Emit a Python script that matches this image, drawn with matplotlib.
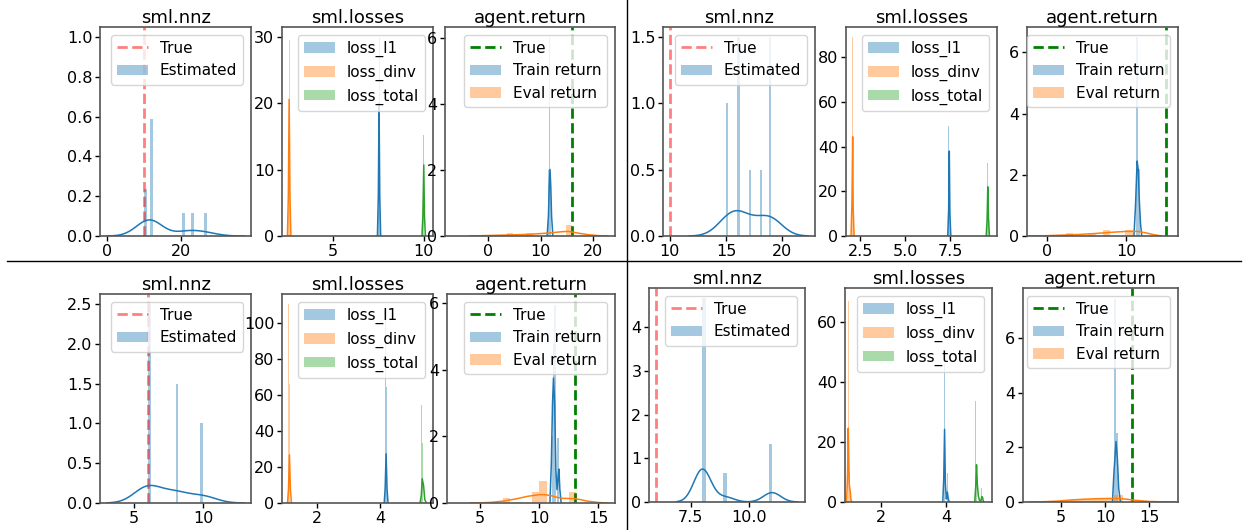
import numpy as np
import matplotlib
matplotlib.use("Agg")
import matplotlib.pyplot as plt
from matplotlib.lines import Line2D
from matplotlib.patches import Patch

plt.rcParams["font.family"] = ["DejaVu Sans"]

W, H = 1244, 530
fig = plt.figure(figsize=(W / 100, H / 100), dpi=100)

# ------------------------------------------------------------------ data
titles = ["sml.nnz", "sml.losses", "agent.return"]
loss_names = ["loss_l1", "loss_dinv", "loss_total"]
return_names = ["True", "Train return", "Eval return"]
nnz_names = ["True", "Estimated"]

# ---- top-left run
tl_nnz = [10, 10, 12, 12, 12, 12, 12, 21, 23, 27]
tl_nnz_true = 10
tl_l1_edges = [7.46, 7.51, 7.56]
tl_l1_heights = [3.9, 30.0]
tl_l1_kde_x = [7.44, 7.49, 7.53, 7.57, 7.62]
tl_l1_kde_y = [0, 6, 20.0, 6, 0]
tl_dinv_edges = [2.49, 2.54, 2.59]
tl_dinv_heights = [3.9, 29.5]
tl_dinv_kde_x = [2.47, 2.52, 2.565, 2.61, 2.66]
tl_dinv_kde_y = [0, 6, 20.6, 6, 0]
tl_total_edges = [9.92, 9.97, 10.02]
tl_total_heights = [2.0, 15.2]
tl_total_kde_x = [9.9, 9.95, 10.0, 10.04, 10.09]
tl_total_kde_y = [0, 3, 10.7, 3, 0]
tl_ret_true = 16
tl_train_edges = [11.35, 11.55, 11.75, 11.95]
tl_train_heights = [2.0, 6.04, 2.0]
tl_train_kde_x = [11.2, 11.45, 11.6, 11.75, 11.9, 12.05, 12.3]
tl_train_kde_y = [0, 0.6, 1.5, 2.02, 1.5, 0.6, 0]
tl_eval_edges = [3.5, 4.75, 6.0, 7.25, 8.5, 9.75, 11.0, 12.25, 13.5, 14.75, 16.0]
tl_eval_heights = [0.10, 0, 0, 0.09, 0, 0, 0, 0, 0, 0.33]
tl_eval_kde_x = [-3.5, 0, 3.5, 7.7, 11.5, 14.0, 15.2, 17.0, 19.0, 21.0, 22.7]
tl_eval_kde_y = [0, 0.015, 0.03, 0.05, 0.09, 0.13, 0.14, 0.09, 0.04, 0.01, 0]

# ---- top-right run
tr_nnz = [15, 15, 16, 16, 16, 17, 18, 19, 19, 19]
tr_nnz_true = 10
tr_l1_edges = [7.40, 7.45, 7.50]
tr_l1_heights = [49.2, 9.4]
tr_l1_kde_x = [7.36, 7.41, 7.445, 7.48, 7.53]
tr_l1_kde_y = [0, 12, 38, 10, 0]
tr_dinv_edges = [2.04, 2.09, 2.14]
tr_dinv_heights = [89.0, 9.4]
tr_dinv_kde_x = [2.0, 2.05, 2.09, 2.12, 2.17]
tr_dinv_kde_y = [0, 15, 44.4, 12, 0]
tr_total_edges = [9.53, 9.58, 9.63]
tr_total_heights = [32.8, 10.9]
tr_total_kde_x = [9.49, 9.54, 9.58, 9.62, 9.67]
tr_total_kde_y = [0, 7, 22, 8, 0]
tr_ret_true = 15
tr_train_edges = [11.27, 11.52, 11.77]
tr_train_heights = [6.5, 2.2]
tr_train_kde_x = [10.95, 11.15, 11.35, 11.5, 11.62, 11.78, 11.94]
tr_train_kde_y = [0, 1.0, 2.45, 2.15, 1.2, 0.4, 0]
tr_eval_edges = [2.4, 3.33, 4.26, 5.19, 6.12, 7.05, 7.98, 8.91, 9.84, 10.77]
tr_eval_heights = [0.09, 0, 0, 0.09, 0, 0.2, 0, 0, 0.2]
tr_eval_kde_x = [-2.2, 0, 2, 4, 6, 8, 10, 11.5, 12.5, 13.5, 14.5]
tr_eval_kde_y = [0, 0.01, 0.03, 0.05, 0.08, 0.12, 0.15, 0.15, 0.10, 0.04, 0]

# ---- bottom-left run
bl_nnz = [6, 6, 6, 6, 6, 8, 8, 8, 10, 10]
bl_nnz_true = 6
bl_l1_edges = [4.15, 4.18, 4.21]
bl_l1_heights = [105.0, 64.8]
bl_l1_kde_x = [4.13, 4.16, 4.19, 4.22, 4.25]
bl_l1_kde_y = [0, 8, 27.4, 8, 0]
bl_dinv_edges = [1.10, 1.13, 1.16]
bl_dinv_heights = [110.6, 66.3]
bl_dinv_kde_x = [1.08, 1.11, 1.14, 1.17, 1.20]
bl_dinv_kde_y = [0, 8, 26.8, 8, 0]
bl_total_edges = [5.29, 5.32, 5.35]
bl_total_heights = [54.6, 33.3]
bl_total_kde_x = [5.26, 5.30, 5.33, 5.37, 5.41, 5.46]
bl_total_kde_y = [0, 4, 13.5, 10, 2, 0]
bl_ret_true = 13
bl_train_edges = [11.04, 11.16, 11.28, 11.40, 11.52, 11.64]
bl_train_heights = [2.0, 4.77, 5.95, 0.0, 1.95]
bl_train_kde_x = [10.9, 11.02, 11.12, 11.2, 11.3, 11.4, 11.5, 11.58, 11.66, 11.74, 11.85]
bl_train_kde_y = [0, 1.2, 3.0, 3.75, 3.0, 1.0, 0.4, 0.7, 1.02, 0.4, 0]
bl_eval_edges = [6.91, 7.53, 8.15, 8.77, 9.39, 10.01, 10.63, 11.25, 11.87, 12.49, 13.11]
bl_eval_heights = [0.16, 0, 0, 0, 0.33, 0.65, 0, 0, 0, 0.33]
bl_eval_kde_x = [4.2, 5, 6, 7, 8, 9, 10, 10.5, 11, 11.5, 12, 12.5, 13, 13.5, 14, 15, 15.8]
bl_eval_kde_y = [0, 0.005, 0.02, 0.06, 0.12, 0.2, 0.25, 0.25, 0.22, 0.17, 0.14, 0.135,
                 0.13, 0.10, 0.06, 0.015, 0]

# ---- bottom-right run
br_nnz = [8, 8, 8, 8, 8, 8, 8, 9, 11, 11]
br_nnz_true = 6
br_l1_edges = [3.93, 3.96, 3.99, 4.02, 4.05]
br_l1_heights = [46.0, 0, 0, 9.6]
br_l1_kde_x = [3.9, 3.93, 3.955, 3.98, 4.01, 4.04, 4.07, 4.1]
br_l1_kde_y = [0, 8, 24.2, 6, 1, 3.3, 1, 0]
br_dinv_edges = [0.98, 1.01, 1.04, 1.07]
br_dinv_heights = [67.0, 9.6, 4.0]
br_dinv_kde_x = [0.95, 0.98, 1.0, 1.03, 1.06, 1.08, 1.11]
br_dinv_kde_y = [0, 10, 24.6, 6, 3.5, 1, 0]
br_total_edges = [4.90, 4.93, 4.96, 4.99, 5.02, 5.05, 5.08, 5.11, 5.14]
br_total_heights = [33.7, 8.0, 0, 0, 0, 0, 4.8, 0]
br_total_kde_x = [4.88, 4.91, 4.935, 4.96, 4.99, 5.03, 5.07, 5.10, 5.12, 5.15]
br_total_kde_y = [0, 5, 12.4, 6, 2, 0.5, 0.5, 1.8, 1.5, 0]
br_ret_true = 13
br_train_edges = [10.99, 11.24, 11.49]
br_train_heights = [7.45, 2.52]
br_train_kde_x = [10.85, 11.0, 11.25, 11.4, 11.55, 11.75]
br_train_kde_y = [0, 1.0, 2.22, 1.6, 0.5, 0]
br_eval_edges = [6, 7, 8, 9, 10, 11, 12]
br_eval_heights = [0.10, 0.10, 0.12, 0.12, 0.14, 0.25]
br_eval_kde_x = [1.5, 3, 4.5, 6, 7.5, 9, 10.5, 11.5, 12.5, 13.5, 15, 16.5, 18]
br_eval_kde_y = [0, 0.01, 0.03, 0.07, 0.10, 0.12, 0.13, 0.13, 0.10, 0.06, 0.02, 0.005, 0]

# ------------------------------------------------------------------ layout
C0, C1, C2 = "#1f77b4", "#ff7f0e", "#2ca02c"
SPINE = "#555555"


def add_ax(l, r, t, b):
    return fig.add_axes([l / W, 1 - b / H, (r - l) / W, (b - t) / H])


def style(ax, title, xticks, yticks, xlim, ylim):
    ax.set_title(title, fontsize=13, pad=3)
    ax.set_xlim(*xlim)
    ax.set_ylim(*ylim)
    ax.set_xticks(xticks)
    ax.set_yticks(yticks)
    ax.tick_params(labelsize=11.5, length=3.5, width=1, pad=2)
    for s in ax.spines.values():
        s.set_color(SPINE)
        s.set_linewidth(1.2)


def kde_curve(samples, gridsize=100, cut=3):
    x = np.asarray(samples, float)
    n = x.size
    q75, q25 = np.percentile(x, [75, 25])
    a = min(np.std(x, ddof=1), (q75 - q25) / 1.349)
    bw = 1.059 * a * n ** (-0.2)
    grid = np.linspace(x.min() - cut * bw, x.max() + cut * bw, gridsize)
    dens = np.exp(-0.5 * ((grid[:, None] - x[None, :]) / bw) ** 2).sum(1) / (n * bw * np.sqrt(2 * np.pi))
    return grid, dens


def draw_nnz(ax, samples, true, xticks, yticks):
    ax.axvline(true, color="r", alpha=0.5, ls="--", lw=2)
    counts, _, _ = ax.hist(samples, bins=20, density=True, color=C0, alpha=0.4)
    gx, gy = kde_curve(samples)
    ax.plot(gx, gy, color=C0, lw=1.1)
    lo, hi = min(true, gx.min()), max(true, gx.max())
    pad = 0.05 * (hi - lo)
    style(ax, titles[0], xticks, yticks, (lo - pad, hi + pad), (0, 1.05 * max(1.0, counts.max())))
    handles = [Line2D([], [], color="r", alpha=0.5, ls="--", lw=2),
               Patch(facecolor=C0, alpha=0.4)]
    ax.legend(handles, nnz_names, loc="upper right", fontsize=11)


def draw_series(ax, edges, heights, kx, ky, color):
    e = np.asarray(edges, float)
    ax.bar(e[:-1], heights, width=np.diff(e), align="edge", color=color, alpha=0.4, linewidth=0)
    ax.plot(kx, ky, color=color, lw=1.1)


def draw_losses(ax, series, xticks, yticks, xlim, ylim):
    for (edges, heights, kx, ky), c in zip(series, [C0, C1, C2]):
        draw_series(ax, edges, heights, kx, ky, c)
    style(ax, titles[1], xticks, yticks, xlim, ylim)
    handles = [Patch(facecolor=c, alpha=0.4) for c in (C0, C1, C2)]
    ax.legend(handles, loss_names, loc="upper right", fontsize=11)


def draw_return(ax, true, train, ev, xticks, yticks, xlim, ylim):
    ax.axvline(true, color="g", ls="--", lw=2)
    draw_series(ax, *train, C0)
    draw_series(ax, *ev, C1)
    style(ax, titles[2], xticks, yticks, xlim, ylim)
    handles = [Line2D([], [], color="g", ls="--", lw=2),
               Patch(facecolor=C0, alpha=0.4), Patch(facecolor=C1, alpha=0.4)]
    ax.legend(handles, return_names, loc="upper right", fontsize=11)


# ---- top-left
draw_nnz(add_ax(100, 251, 27, 236), tl_nnz, tl_nnz_true, [0, 20], [0, 0.2, 0.4, 0.6, 0.8, 1.0])
draw_losses(add_ax(282, 433, 27, 236),
            [(tl_l1_edges, tl_l1_heights, tl_l1_kde_x, tl_l1_kde_y),
             (tl_dinv_edges, tl_dinv_heights, tl_dinv_kde_x, tl_dinv_kde_y),
             (tl_total_edges, tl_total_heights, tl_total_kde_x, tl_total_kde_y)],
            [5, 10], [0, 10, 20, 30], (2.17, 10.51), (0, 31.5))
draw_return(add_ax(445, 615, 27, 236), tl_ret_true,
            (tl_train_edges, tl_train_heights, tl_train_kde_x, tl_train_kde_y),
            (tl_eval_edges, tl_eval_heights, tl_eval_kde_x, tl_eval_kde_y),
            [0, 10, 20], [0, 2, 4, 6], (-8.2, 24.1), (0, 6.34))

# ---- top-right
draw_nnz(add_ax(663, 815, 27, 236), tr_nnz, tr_nnz_true, [10, 15, 20], [0, 0.5, 1.0, 1.5])
draw_losses(add_ax(846, 997, 27, 236),
            [(tr_l1_edges, tr_l1_heights, tr_l1_kde_x, tr_l1_kde_y),
             (tr_dinv_edges, tr_dinv_heights, tr_dinv_kde_x, tr_dinv_kde_y),
             (tr_total_edges, tr_total_heights, tr_total_kde_x, tr_total_kde_y)],
            [2.5, 5.0, 7.5], [0, 20, 40, 60, 80], (1.72, 10.09), (0, 93.5))
draw_return(add_ax(1027, 1178, 27, 236), tr_ret_true,
            (tr_train_edges, tr_train_heights, tr_train_kde_x, tr_train_kde_y),
            (tr_eval_edges, tr_eval_heights, tr_eval_kde_x, tr_eval_kde_y),
            [0, 10], [0, 2, 4, 6], (-2.52, 16.5), (0, 6.83))

# ---- bottom-left
draw_nnz(add_ax(100, 251, 294, 503), bl_nnz, bl_nnz_true, [5, 10], [0, 0.5, 1.0, 1.5, 2.0, 2.5])
draw_losses(add_ax(282, 433, 294, 503),
            [(bl_l1_edges, bl_l1_heights, bl_l1_kde_x, bl_l1_kde_y),
             (bl_dinv_edges, bl_dinv_heights, bl_dinv_kde_x, bl_dinv_kde_y),
             (bl_total_edges, bl_total_heights, bl_total_kde_x, bl_total_kde_y)],
            [2, 4], [0, 20, 40, 60, 80, 100], (0.905, 5.67), (0, 116.3))
draw_return(add_ax(447, 615, 294, 503), bl_ret_true,
            (bl_train_edges, bl_train_heights, bl_train_kde_x, bl_train_kde_y),
            (bl_eval_edges, bl_eval_heights, bl_eval_kde_x, bl_eval_kde_y),
            [5, 10, 15], [0, 2, 4, 6], (2.2, 16.4), (0, 6.27))

# ---- bottom-right
draw_nnz(add_ax(649, 805, 288, 502), br_nnz, br_nnz_true, [7.5, 10.0], [0, 1, 2, 3, 4])
draw_losses(add_ax(845, 992, 288, 502),
            [(br_l1_edges, br_l1_heights, br_l1_kde_x, br_l1_kde_y),
             (br_dinv_edges, br_dinv_heights, br_dinv_kde_x, br_dinv_kde_y),
             (br_total_edges, br_total_heights, br_total_kde_x, br_total_kde_y)],
            [2, 4], [0, 20, 40, 60], (0.9, 5.41), (0, 71.3))
draw_return(add_ax(1023, 1178, 288, 502), br_ret_true,
            (br_train_edges, br_train_heights, br_train_kde_x, br_train_kde_y),
            (br_eval_edges, br_eval_heights, br_eval_kde_x, br_eval_kde_y),
            [5, 10, 15], [0, 2, 4, 6], (0.74, 18.25), (0, 7.85))

# ---- separators between the four runs
fig.add_artist(Line2D([7 / W, 1241 / W], [1 - 261 / H, 1 - 261 / H], color="k", lw=1,
                      transform=fig.transFigure))
fig.add_artist(Line2D([627 / W, 627 / W], [0, 1], color="k", lw=1, transform=fig.transFigure))

fig.savefig("out.png", dpi=100)
